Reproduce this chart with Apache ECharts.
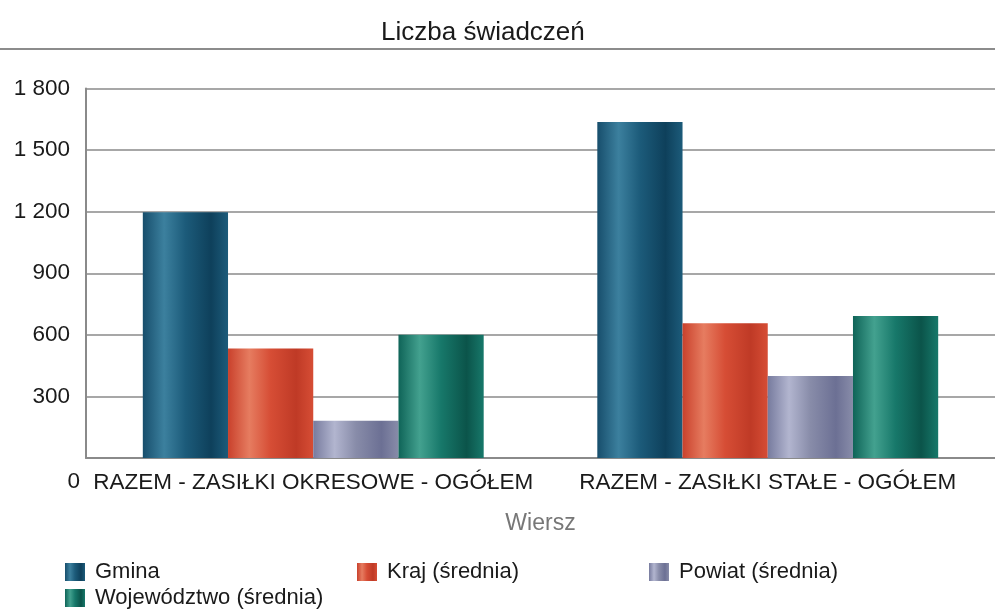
<!DOCTYPE html>
<html>
<head>
<meta charset="utf-8">
<script src="https://cdn.jsdelivr.net/npm/echarts@6/dist/echarts.min.js"></script>
<style>
  html, body { margin: 0; padding: 0; background: #fff; }
  #chart { width: 995px; height: 609px; }
</style>
</head>
<body>
<div id="chart"></div>
<script>
const categories = ['RAZEM - ZASIŁKI OKRESOWE - OGÓŁEM', 'RAZEM - ZASIŁKI STAŁE - OGÓŁEM']
const seriesNames = ['Gmina', 'Kraj (średnia)', 'Powiat (średnia)', 'Województwo (średnia)']
const gmina = [1197, 1637]
const kraj = [534, 656]
const powiat = [182, 399]
const wojewodztwo = [600, 692]
const yTicks = [0, 300, 600, 900, 1200, 1500, 1800]

// cylinder-like shading per series: [edge, highlight, body, dark]
const shades = [
  ['#174e6c', '#3c809e', '#1c5b7a', '#0e405b'],
  ['#c9412c', '#e67c60', '#d64d35', '#bf3a26'],
  ['#777b9e', '#b2b5cf', '#888ca9', '#6c7094'],
  ['#0f6458', '#43a18f', '#17786a', '#0b544a'],
]

function grad(c) {
  return new echarts.graphic.LinearGradient(0, 0, 1, 0, [
    { offset: 0, color: c[0] },
    { offset: 0.25, color: c[1] },
    { offset: 0.5, color: c[2] },
    { offset: 0.8, color: c[3] },
    { offset: 1, color: c[2] },
  ])
}

const values = [gmina, kraj, powiat, wojewodztwo]
const chart = echarts.init(document.getElementById('chart'))
const font = '"Liberation Sans", Arial, sans-serif'

chart.setOption({
  textStyle: { fontFamily: font },
  title: {
    text: 'Liczba świadczeń',
    left: 376,
    top: 15,
    textStyle: { fontSize: 26, fontWeight: 'normal', color: '#1a1a1a', fontFamily: font },
  },
  graphic: [
    {
      type: 'line',
      shape: { x1: 0, y1: 49, x2: 995, y2: 49 },
      style: { stroke: '#8c8c8c', lineWidth: 2 },
    },
  ],
  legend: {
    left: 60,
    top: 556,
    width: 890,
    itemWidth: 20,
    itemHeight: 18,
    itemGap: 4,
    icon: 'rect',
    formatter: (name) => '{a|' + name + '}',
    textStyle: {
      rich: { a: { fontSize: 22, color: '#1a1a1a', width: 258, lineHeight: 17, padding: [0, 0, 0, 5] } },
    },
    data: seriesNames,
  },
  grid: { left: 86, right: 0, top: 88.5, bottom: 151, containLabel: false },
  xAxis: {
    type: 'category',
    data: categories,
    name: 'Wiersz',
    nameLocation: 'middle',
    nameGap: 54,
    nameTextStyle: { fontSize: 23, color: '#777' },
    axisLine: { lineStyle: { color: '#8a8a8a', width: 2 } },
    axisTick: { show: false },
    axisLabel: { fontSize: 22.5, color: '#1a1a1a', margin: 13, interval: 0 },
  },
  yAxis: {
    type: 'value',
    min: yTicks[0],
    max: yTicks[yTicks.length - 1],
    interval: 300,
    axisLine: { show: true, lineStyle: { color: '#8a8a8a', width: 2 } },
    axisTick: { show: false },
    axisLabel: {
      margin: 6,
      formatter: (v) => v === 0 ? '{z|0}' : '{n|' + String(v).replace(/\B(?=(\d{3})+(?!\d))/g, ' ') + '}',
      rich: {
        n: { fontSize: 22.5, color: '#1a1a1a', padding: [0, 10, 0, 0] },
        z: { fontSize: 22.5, color: '#1a1a1a', padding: [48, 0, 0, 0] },
      },
    },
    splitLine: { lineStyle: { color: '#8a8a8a', width: 1.5 } },
  },
  series: seriesNames.map((name, i) => ({
    name,
    type: 'bar',
    data: values[i],
    barGap: '0%',
    barCategoryGap: '25%',
    itemStyle: { color: grad(shades[i]) },
  })),
})
</script>
</body>
</html>
